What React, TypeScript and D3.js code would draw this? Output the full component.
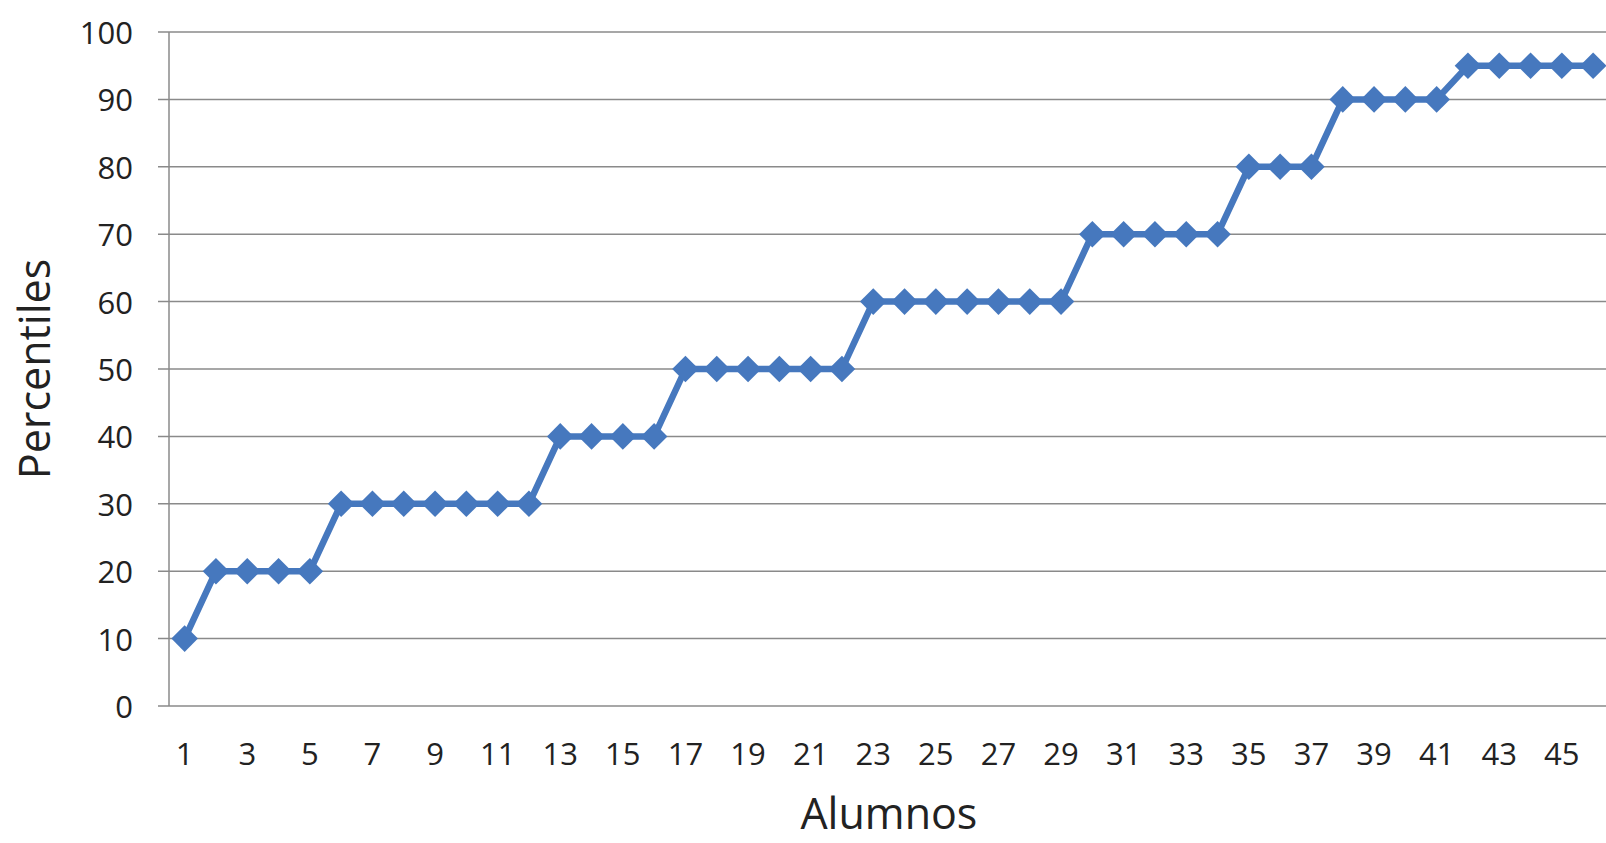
import React from "react";
import * as d3 from "d3";

const alumnos: number[] = Array.from({ length: 46 }, (_, i) => i + 1);
const percentiles: number[] = [
  10,
  20, 20, 20, 20,
  30, 30, 30, 30, 30, 30, 30,
  40, 40, 40, 40,
  50, 50, 50, 50, 50, 50,
  60, 60, 60, 60, 60, 60, 60,
  70, 70, 70, 70, 70,
  80, 80, 80,
  90, 90, 90, 90,
  95, 95, 95, 95, 95,
];
const yTicks: number[] = [0, 10, 20, 30, 40, 50, 60, 70, 80, 90, 100];
const xTitle = "Alumnos";
const yTitle = "Percentiles";

const W = 1606;
const H = 843;
const FONT = "'Open Sans', 'Noto Sans', sans-serif";
const BLUE = "#4678BE";
const GRID = "#8a8a8a";

export default function App() {
  const left = 169;
  const top = 32;
  const bottom = 706;
  const bandW = 31.3;
  const x = d3
    .scaleBand<number>()
    .domain(alumnos)
    .range([left, left + bandW * alumnos.length])
    .paddingInner(0)
    .paddingOuter(0);
  const y = d3.scaleLinear().domain([0, 100]).range([bottom, top]);
  const cx = (d: number) => (x(d) as number) + x.bandwidth() / 2;

  const line = d3
    .line<number>()
    .x((_, i) => cx(alumnos[i]))
    .y((v) => y(v));

  const diamond = d3.symbol().type(d3.symbolDiamond2).size(2 * 15 * 15)();

  const [r0, r1] = x.range();
  const plotCenter = (r0 + r1) / 2;

  return (
    <svg
      width={W}
      height={H}
      style={{ position: "absolute", left: 0, top: 0, background: "#fff", display: "block" }}
    >
      {yTicks.map((t) =>
        t === 0 ? null : (
          <line
            key={"g" + t}
            x1={left - 11}
            x2={W}
            y1={y(t)}
            y2={y(t)}
            stroke={GRID}
            strokeWidth={1.5}
          />
        )
      )}
      <line x1={left} x2={left} y1={top} y2={bottom} stroke={GRID} strokeWidth={1.5} />
      <line x1={left - 11} x2={W} y1={bottom} y2={bottom} stroke={GRID} strokeWidth={1.5} />
      {yTicks.map((t) => (
        <text
          key={"yl" + t}
          x={133}
          y={y(t)}
          textAnchor="end"
          dominantBaseline="central"
          fontFamily={FONT}
          fontSize={31}
          fill="#222"
        >
          {t}
        </text>
      ))}
      {alumnos
        .filter((d) => d % 2 === 1)
        .map((d) => (
          <text
            key={"xl" + d}
            x={cx(d)}
            y={765}
            textAnchor="middle"
            fontFamily={FONT}
            fontSize={31}
            fill="#222"
          >
            {d}
          </text>
        ))}
      <path
        d={line(percentiles) || ""}
        fill="none"
        stroke={BLUE}
        strokeWidth={6.5}
        strokeLinejoin="round"
      />
      {percentiles.map((v, i) => (
        <path
          key={"m" + i}
          d={diamond || ""}
          transform={`translate(${cx(alumnos[i])},${y(v)})`}
          fill={BLUE}
        />
      ))}
      <text
        x={plotCenter}
        y={829}
        textAnchor="middle"
        fontFamily={FONT}
        fontSize={43}
        fill="#222"
      >
        {xTitle}
      </text>
      <text
        transform={`translate(50,${(top + bottom) / 2}) rotate(-90)`}
        textAnchor="middle"
        fontFamily={FONT}
        fontSize={43}
        fill="#222"
      >
        {yTitle}
      </text>
    </svg>
  );
}
